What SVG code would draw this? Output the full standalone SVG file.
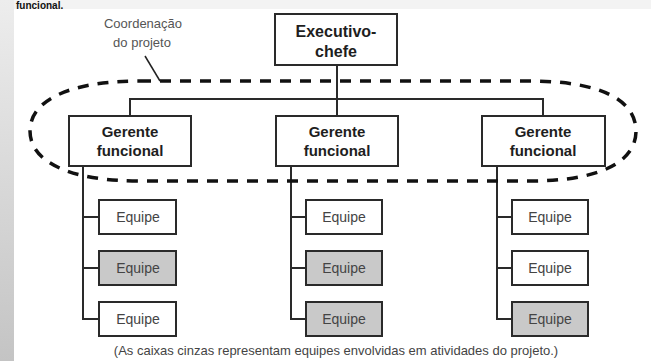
<svg xmlns="http://www.w3.org/2000/svg" width="651" height="361" viewBox="0 0 651 361">
<defs>
<linearGradient id="strip" x1="0" y1="0" x2="0" y2="1">
<stop offset="0" stop-color="#ededed"/>
<stop offset="1" stop-color="#c4c4c4"/>
</linearGradient>
<style>
.box{fill:#fff;stroke:#2a2a2a;stroke-width:2}
.gray{fill:#c9c9c9}
.ln{fill:none;stroke:#2a2a2a;stroke-width:2}
.b{font-family:"Liberation Sans",Arial,sans-serif;font-weight:bold;fill:#1e1e1e;text-anchor:middle}
.t{font-family:"Liberation Sans",Arial,sans-serif;font-size:14px;fill:#444;text-anchor:middle}
.c{font-family:"Liberation Sans",Arial,sans-serif;font-size:13px;fill:#555;text-anchor:middle}
</style>
</defs>
<rect width="651" height="361" fill="#fff"/>
<rect x="0" y="0" width="651" height="9" fill="#f3f3f3"/>
<rect x="0" y="0" width="14" height="361" fill="url(#strip)"/>
<text x="16" y="9" font-family="'Liberation Sans',Arial,sans-serif" font-weight="bold" font-size="10" fill="#111">funcional.</text>

<g id="connectors">
<line class="ln" x1="337" y1="65" x2="337" y2="116"/>
<polyline class="ln" points="130,116 130,99 543,99 543,116"/>
<polyline class="ln" points="83,166 83,319 99,319"/>
<line class="ln" x1="83" y1="217" x2="99" y2="217"/>
<line class="ln" x1="83" y1="268" x2="99" y2="268"/>
<polyline class="ln" points="291,166 291,319 306,319"/>
<line class="ln" x1="291" y1="217" x2="306" y2="217"/>
<line class="ln" x1="291" y1="268" x2="306" y2="268"/>
<polyline class="ln" points="497,166 497,319 512,319"/>
<line class="ln" x1="497" y1="217" x2="512" y2="217"/>
<line class="ln" x1="497" y1="268" x2="512" y2="268"/>
</g>

<g id="coordenacao">
<path d="M140,81 L530,81 C600,81 636,100 636,131 C636,162 600,181 530,181 L140,181 C70,181 30,162 30,131 C30,100 70,81 140,81 Z" fill="none" stroke="#111" stroke-width="3.5" stroke-dasharray="11 9"/>
<line x1="145" y1="56" x2="160" y2="81" stroke="#222" stroke-width="1.5"/>
<text class="c" x="143" y="28">Coordenação</text>
<text class="c" x="142" y="47">do projeto</text>
</g>

<g id="executivo">
<rect class="box" x="275" y="14" width="122" height="51"/>
<text class="b" font-size="16" x="336" y="37">Executivo-</text>
<text class="b" font-size="16" x="336" y="57">chefe</text>
</g>

<g id="gerente1">
<rect class="box" x="69" y="116" width="122" height="50"/>
<text class="b" font-size="15" x="130" y="137">Gerente</text>
<text class="b" font-size="15" x="130" y="156">funcional</text>
</g>
<g id="gerente2">
<rect class="box" x="276" y="116" width="122" height="50"/>
<text class="b" font-size="15" x="337" y="137">Gerente</text>
<text class="b" font-size="15" x="337" y="156">funcional</text>
</g>
<g id="gerente3">
<rect class="box" x="482" y="116" width="123" height="50"/>
<text class="b" font-size="15" x="543" y="137">Gerente</text>
<text class="b" font-size="15" x="543" y="156">funcional</text>
</g>

<g id="equipe1a"><rect class="box" x="99" y="200" width="77" height="34"/><text class="t" x="138" y="222">Equipe</text></g>
<g id="equipe1b"><rect class="box gray" x="99" y="251" width="77" height="34"/><text class="t" x="138" y="273">Equipe</text></g>
<g id="equipe1c"><rect class="box" x="99" y="302" width="77" height="34"/><text class="t" x="138" y="324">Equipe</text></g>

<g id="equipe2a"><rect class="box" x="306" y="200" width="76" height="34"/><text class="t" x="344" y="222">Equipe</text></g>
<g id="equipe2b"><rect class="box gray" x="306" y="251" width="76" height="34"/><text class="t" x="344" y="273">Equipe</text></g>
<g id="equipe2c"><rect class="box gray" x="306" y="302" width="76" height="34"/><text class="t" x="344" y="324">Equipe</text></g>

<g id="equipe3a"><rect class="box" x="512" y="200" width="76" height="34"/><text class="t" x="550" y="222">Equipe</text></g>
<g id="equipe3b"><rect class="box" x="512" y="251" width="76" height="34"/><text class="t" x="550" y="273">Equipe</text></g>
<g id="equipe3c"><rect class="box gray" x="512" y="302" width="76" height="34"/><text class="t" x="550" y="324">Equipe</text></g>

<text x="336" y="355" font-family="'Liberation Sans',Arial,sans-serif" font-size="13" fill="#444" text-anchor="middle">(As caixas cinzas representam equipes envolvidas em atividades do projeto.)</text>
</svg>
